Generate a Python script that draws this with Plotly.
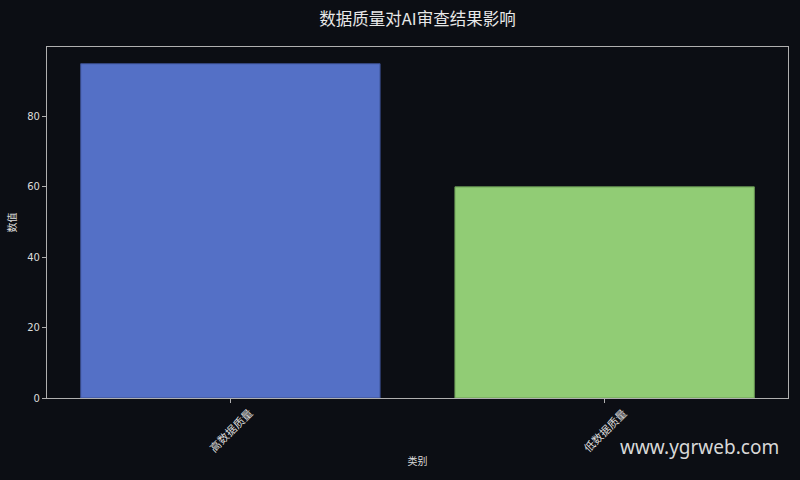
import plotly.graph_objects as go

categories = ["高数据质量", "低数据质量"]
values = [95, 60]
bar_colors = ["#5470c6", "#91cc75"]
edge_colors = ["#3a4f8f", "#6a9a55"]
y_ticks = [0, 20, 40, 60, 80]

title_text = "数据质量对AI审查结果影响"
x_title = "类别"
y_title = "数值"
watermark = "www.ygrweb.com"

BG = "#0c0e14"
TXT = "#dcdcdc"
AX = "#b0b0b0"
FONT = "DejaVu Sans, Noto Sans CJK SC"

fig = go.Figure()
fig.add_trace(go.Bar(
    x=categories, y=values, width=0.8,
    marker=dict(color=bar_colors, line=dict(color=edge_colors, width=1)),
    hoverinfo="skip",
))

annotations = []
for c in categories:
    annotations.append(dict(
        x=c, xref="x", y=0, yref="paper", yanchor="middle", xanchor="center",
        yshift=-32, text=c, textangle=-45, showarrow=False,
        font=dict(family="Noto Sans CJK SC", size=11, color=TXT),
    ))
annotations.append(dict(
    x=1.0, xref="paper", y=-0.14, yref="paper", xanchor="right", yanchor="middle",
    xshift=-7, text=watermark, showarrow=False,
    font=dict(family="Noto Sans", size=19, color="#d8d8d8"),
))

fig.update_layout(
    width=800, height=480,
    margin=dict(l=47, r=12, t=47, b=82),
    paper_bgcolor=BG, plot_bgcolor=BG,
    font=dict(family=FONT, color=TXT, size=10),
    showlegend=False,
    title=dict(text=title_text, x=0.5, xref="paper", xanchor="center",
               y=1 - 19 / 480, yref="container", yanchor="middle",
               font=dict(family="Noto Sans CJK SC", size=16.5, color="#e8e8e8")),
    bargap=0.2,
    annotations=annotations,
)
fig.update_xaxes(
    type="category", range=[-0.49, 1.49],
    showticklabels=False, ticks="outside", ticklen=4, tickcolor=AX,
    showgrid=False, zeroline=False,
    showline=True, linecolor=AX, linewidth=1.2, mirror=True,
    title=dict(text=x_title, standoff=55, font=dict(family="Noto Sans CJK SC", size=10, color=TXT)),
)
fig.update_yaxes(
    range=[0, 99.75], tickvals=y_ticks, ticks="outside", ticklen=4, tickcolor=AX,
    showgrid=False, zeroline=False,
    showline=True, linecolor=AX, linewidth=1.2, mirror=True,
    tickfont=dict(size=10, color=TXT),
    title=dict(text=y_title, standoff=8, font=dict(family="Noto Sans CJK SC", size=10, color=TXT)),
)

fig.write_html(
    "out.html",
    config={"displayModeBar": False},
    post_script="document.body.style.margin='0';document.body.style.padding='0';document.body.style.background='%s';" % BG,
)
